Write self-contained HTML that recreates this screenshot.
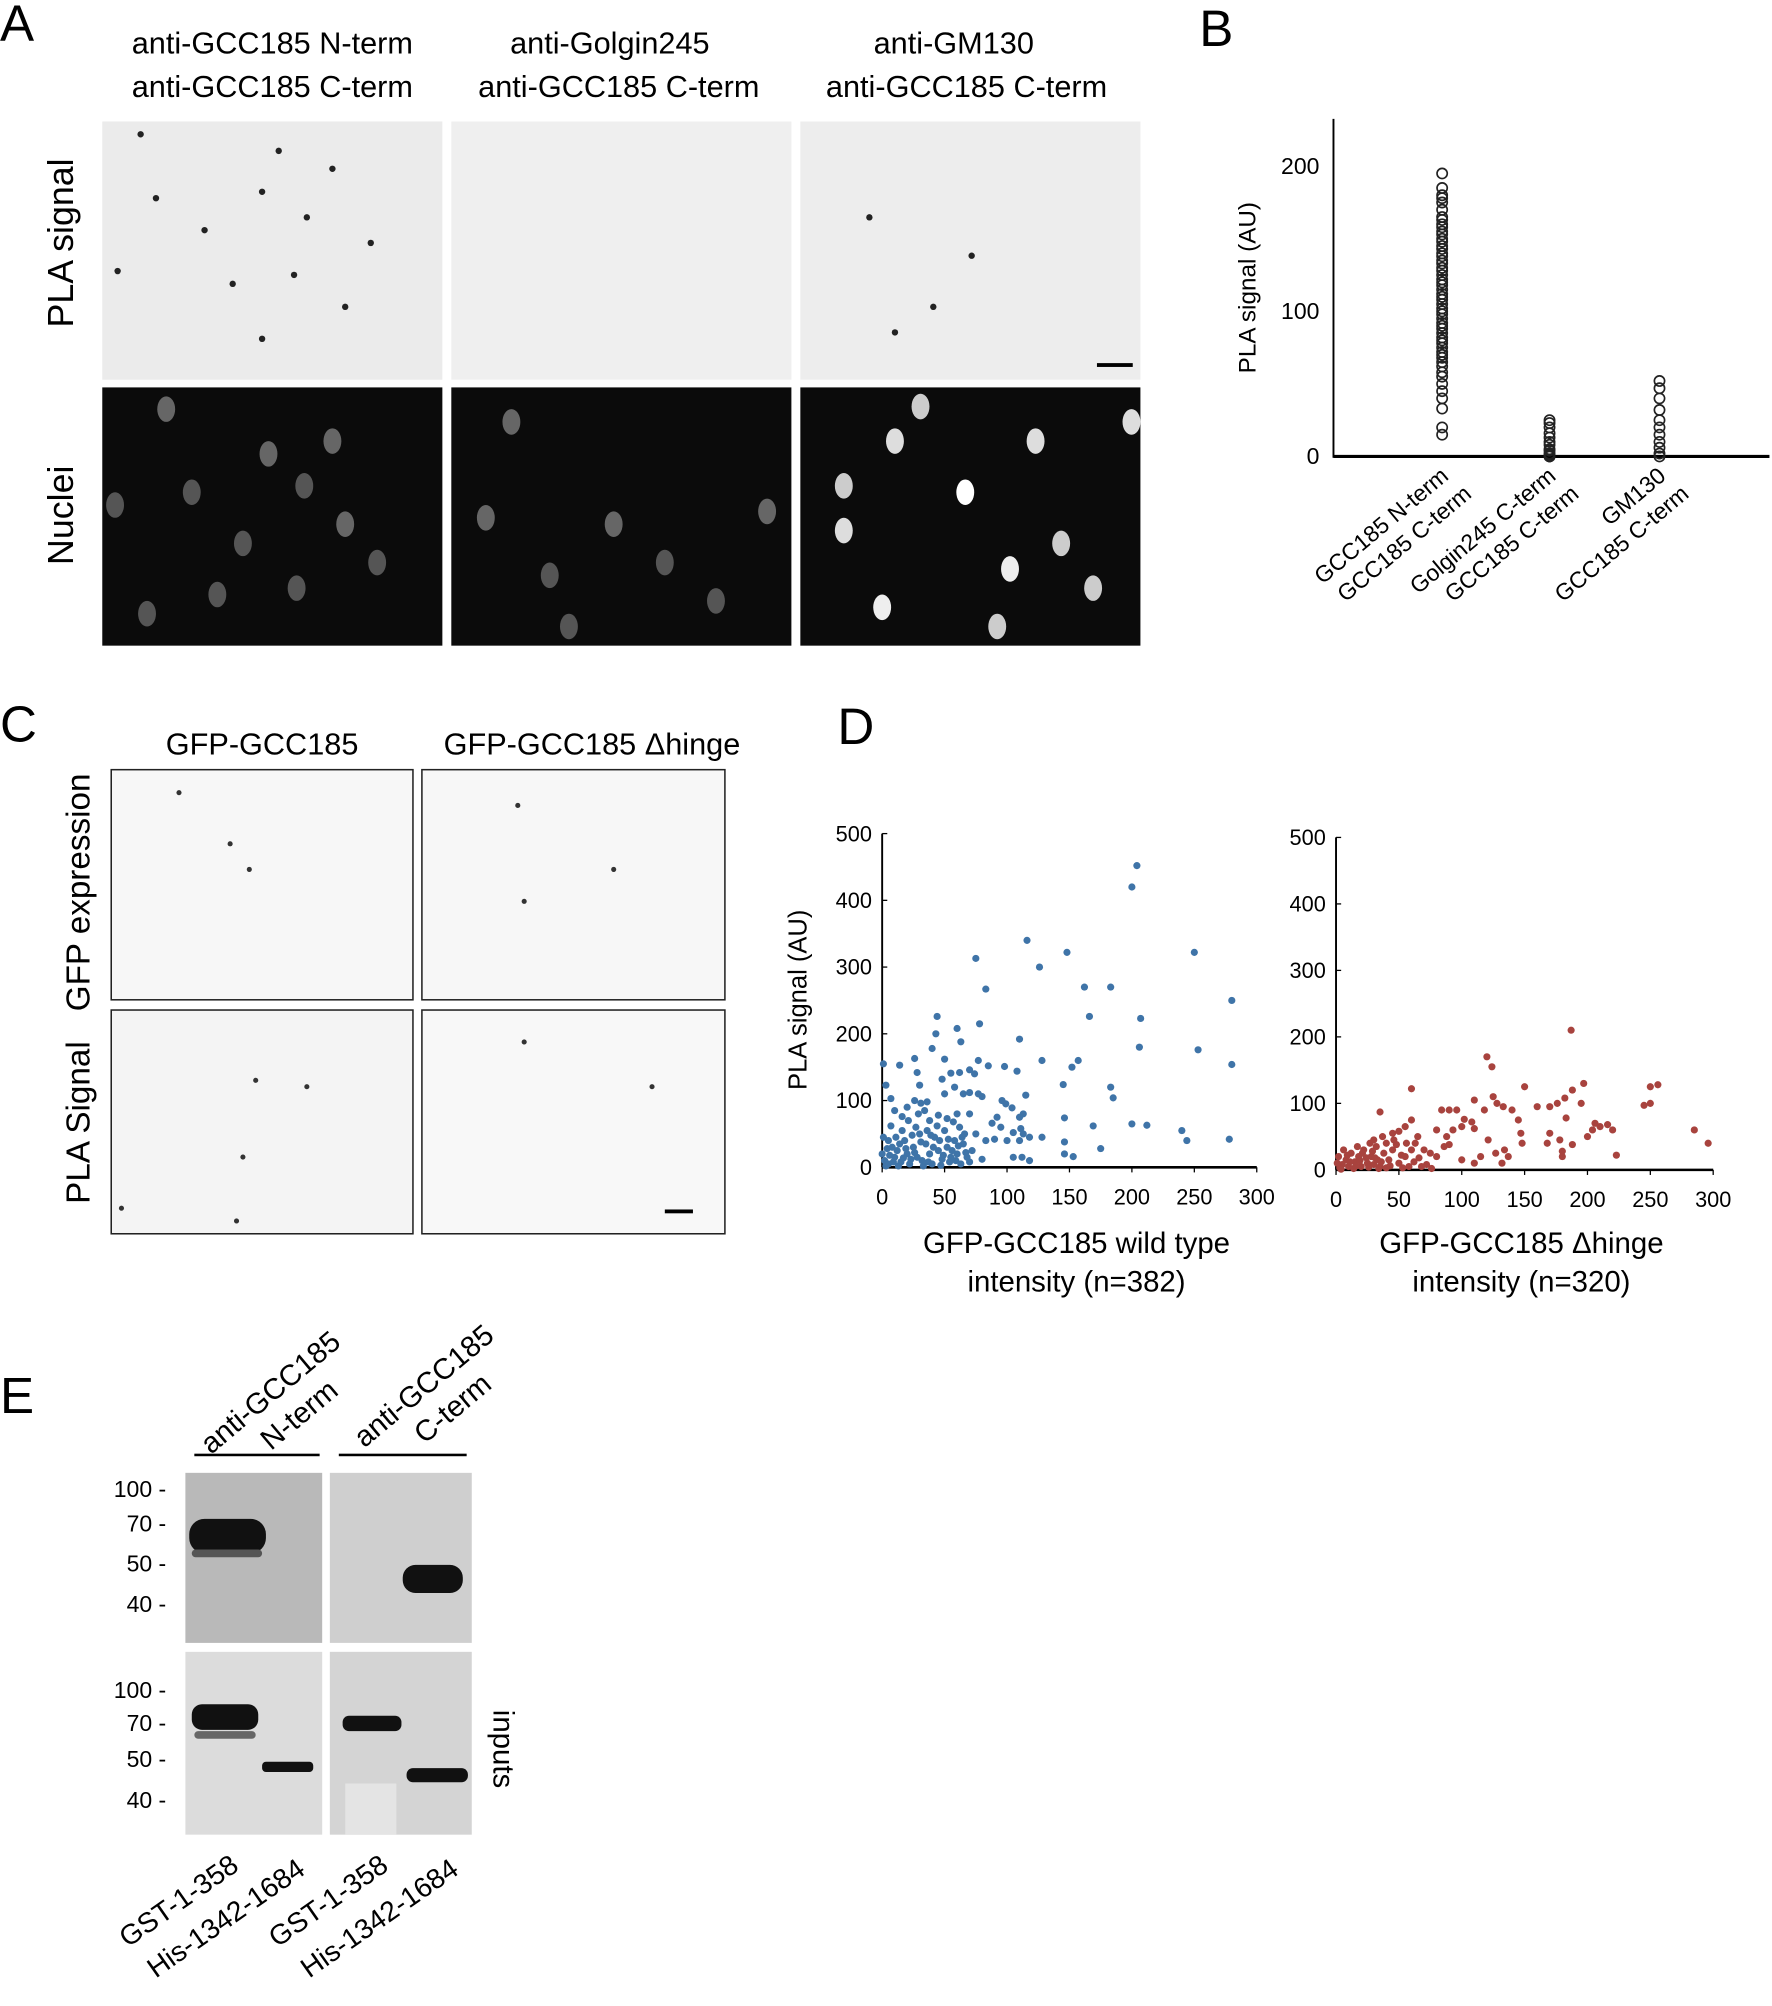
<!DOCTYPE html>
<html><head><meta charset="utf-8"><style>
html,body{margin:0;padding:0;background:#fff;}
svg{display:block;font-family:"Liberation Sans",Arial,sans-serif;}
</style></head><body>
<svg width="1772" height="2006" viewBox="0 0 1386 1569" xmlns="http://www.w3.org/2000/svg">
<rect width="1386" height="1569" fill="#fff"/>
<!-- Panel A -->
<g>
<text x="0" y="32" font-size="40">A</text>
<g font-size="24" text-anchor="middle">
<text x="213" y="42">anti-GCC185 N-term</text><text x="213" y="76">anti-GCC185 C-term</text>
<text x="477" y="42">anti-Golgin245</text><text x="484" y="76">anti-GCC185 C-term</text>
<text x="746" y="42">anti-GM130</text><text x="756" y="76">anti-GCC185 C-term</text>
</g>
<text font-size="28" text-anchor="middle" transform="translate(57,190) rotate(-90)">PLA signal</text>
<text font-size="28" text-anchor="middle" transform="translate(57,403) rotate(-90)">Nuclei</text>
<rect x="80" y="95" width="266" height="202" fill="#ebebeb"/>
<rect x="353" y="95" width="266" height="202" fill="#efefef"/>
<rect x="626" y="95" width="266" height="202" fill="#ededed"/>
<g fill="#333" id="plaDots"></g>
<rect x="858" y="284" width="28" height="3" fill="#000"/>
<rect x="80" y="303" width="266" height="202" fill="#0b0b0b"/>
<rect x="353" y="303" width="266" height="202" fill="#0b0b0b"/>
<rect x="626" y="303" width="266" height="202" fill="#0b0b0b"/>
<g id="nuclei"></g>
</g>
<!-- Panel B -->
<g>
<text x="938" y="36" font-size="40">B</text>
<text font-size="19" text-anchor="middle" transform="translate(982,225) rotate(-90)">PLA signal (AU)</text>
<g id="chartB"></g>
</g>
<!-- Panel C -->
<g>
<text x="0" y="580" font-size="40">C</text>
<text x="205" y="590" font-size="24" text-anchor="middle">GFP-GCC185</text>
<text x="463" y="590" font-size="24" text-anchor="middle">GFP-GCC185 Δhinge</text>
<text font-size="26" text-anchor="middle" transform="translate(70,698) rotate(-90)">GFP expression</text>
<text font-size="26" text-anchor="middle" transform="translate(70,878) rotate(-90)">PLA Signal</text>
<rect x="87" y="602" width="236" height="180" fill="#f7f7f7" stroke="#222" stroke-width="1.2"/>
<rect x="330" y="602" width="237" height="180" fill="#f7f7f7" stroke="#222" stroke-width="1.2"/>
<rect x="87" y="790" width="236" height="175" fill="#f4f4f4" stroke="#222" stroke-width="1.2"/>
<rect x="330" y="790" width="237" height="175" fill="#f8f8f8" stroke="#222" stroke-width="1.2"/>
<g fill="#333" id="cDots"></g>
<rect x="520" y="946" width="22" height="3" fill="#000"/>
</g>
<!-- Panel D -->
<g>
<text x="655" y="582" font-size="40">D</text>
<text font-size="20" text-anchor="middle" transform="translate(631,782) rotate(-90)">PLA signal (AU)</text>
<g font-size="23" text-anchor="middle">
<text x="842" y="980">GFP-GCC185 wild type</text>
<text x="842" y="1010">intensity (n=382)</text>
<text x="1190" y="980">GFP-GCC185 Δhinge</text>
<text x="1190" y="1010">intensity (n=320)</text>
</g>
<g id="chartD1"></g><g id="chartD2"></g>
</g>
<!-- Panel E -->
<g>
<text x="0" y="1105" font-size="40">E</text>
<g font-size="23">
<text transform="translate(165,1138) rotate(-40)">anti-GCC185</text>
<text transform="translate(212,1135) rotate(-40)">N-term</text>
<text transform="translate(285,1133) rotate(-40)">anti-GCC185</text>
<text transform="translate(332,1130) rotate(-40)">C-term</text>
</g>
<rect x="152" y="1137" width="98" height="2" fill="#000"/>
<rect x="265" y="1137" width="100" height="2" fill="#000"/>
<rect x="145" y="1152" width="107" height="133" fill="#b9b9b9"/>
<rect x="258" y="1152" width="111" height="133" fill="#cfcfcf"/>
<rect x="145" y="1292" width="107" height="143" fill="#dcdcdc"/>
<rect x="258" y="1292" width="111" height="143" fill="#d4d4d4"/>
<rect x="148" y="1188" width="60" height="27" rx="12" fill="#111"/>
<rect x="150" y="1212" width="55" height="6" rx="3" fill="#555"/>
<rect x="315" y="1224" width="47" height="22" rx="10" fill="#111"/>
<rect x="150" y="1333" width="52" height="20" rx="8" fill="#111"/>
<rect x="152" y="1354" width="48" height="6" rx="3" fill="#666"/>
<rect x="205" y="1378" width="40" height="8" rx="3" fill="#111"/>
<rect x="268" y="1342" width="46" height="12" rx="5" fill="#111"/>
<rect x="270" y="1395" width="40" height="40" fill="#e4e4e4"/>
<rect x="318" y="1383" width="48" height="11" rx="5" fill="#111"/>
<g font-size="18" text-anchor="end">
<text x="130" y="1171">100 -</text><text x="130" y="1198">70 -</text><text x="130" y="1229">50 -</text><text x="130" y="1261">40 -</text>
<text x="130" y="1328">100 -</text><text x="130" y="1354">70 -</text><text x="130" y="1382">50 -</text><text x="130" y="1414">40 -</text>
</g>
<text font-size="23" text-anchor="middle" transform="translate(386,1368) rotate(90)">inputs</text>
<g font-size="22" text-anchor="end">
<text transform="translate(188,1462) rotate(-35)">GST-1-358</text>
<text transform="translate(240,1465) rotate(-35)">His-1342-1684</text>
<text transform="translate(305,1462) rotate(-35)">GST-1-358</text>
<text transform="translate(360,1465) rotate(-35)">His-1342-1684</text>
</g>
</g>
</svg>
<script>
// Panel B data
const bCategories=[["GCC185 N-term","GCC185 C-term"],["Golgin245 C-term","GCC185 C-term"],["GM130","GCC185 C-term"]];
const bTicks=[0,100,200];
const bCat1=[15,20,33,40,45,50,55,58,62,65,68,70,72,75,78,80,82,85,88,90,92,95,98,100,102,105,108,110,112,115,118,120,122,125,128,130,133,135,138,140,143,145,148,150,153,155,158,160,163,165,170,175,178,180,185,195];
const bCat2=[0,0,1,2,4,5,8,10,13,16,20,23,25];
const bCat3=[0,2,6,10,15,20,25,32,40,47,52];
// Panel D data
const dXTicks=[0,50,100,150,200,250,300];
const dYTicks=[0,100,200,300,400,500];
const wtX=[200,204,116,148,250,75,126,83,162,183,280,44,166,207,43,60,78,63,110,206,253,40,26,1,14,50,85,98,77,128,157,152,280,108,62,55,70,74,28,3,48,145,183,185,7,30,58,50,65,70,77,80,96,99,104,115,113,110,111,146,26,31,36,20,10,16,38,45,52,60,70,88,92,95,83,90,100,105,110,113,118,128,146,146,153,169,175,200,212,240,244,278,105,112,118,80,5,0,2,5,8,10,12,15,18,20,22,25,28,30,32,35,38,40,42,45,48,50,52,55,58,60,62,65,68,72,75,3,6,9,14,17,24,27,33,36,44,47,54,57,63,66,16,11,7,21,29,34,1,4,13,19,23,26,31,37,41,46,49,53,56,59,61,67,70,64,39];
const wtY=[420,452,340,322,322,313,300,267,270,270,250,226,226,223,200,208,215,188,192,180,176,178,163,155,153,162,152,151,160,160,160,150,154,144,142,141,146,140,142,123,132,124,120,104,103,123,120,110,110,112,110,106,100,95,89,108,80,75,58,74,100,96,98,90,85,76,70,78,73,80,80,66,75,60,40,42,40,52,40,50,45,45,38,20,16,62,28,65,63,55,40,42,15,15,10,12,40,20,10,5,30,15,25,8,40,20,5,30,15,50,10,35,20,5,45,25,12,55,30,15,40,20,60,35,15,25,50,2,18,8,35,14,48,60,2,55,62,3,8,68,5,50,55,45,62,70,80,85,45,28,2,28,12,22,38,8,30,40,18,42,25,10,32,22,8,45,48];
const dhX=[187,120,124,60,150,256,250,197,188,182,195,176,160,250,245,110,125,128,133,118,140,145,170,35,90,96,84,102,108,100,110,93,206,210,204,216,220,183,285,296,200,188,178,170,168,147,148,134,127,121,137,132,115,110,100,90,88,80,75,80,86,60,55,50,45,40,30,65,70,60,180,223,180,55,50,45,42,38,35,32,28,25,22,20,18,15,12,10,8,5,3,2,6,14,17,24,27,30,33,37,40,48,52,58,62,66,72,76,1,4,9,11,16,19,21,26,29,31,34,36,43,46,53,56,63,68];
const dhY=[210,170,155,122,125,128,125,130,120,108,100,100,95,100,97,105,110,100,95,90,90,75,95,87,90,90,90,76,72,65,62,60,70,65,60,68,60,78,60,40,50,38,45,55,40,55,40,30,25,45,20,10,20,10,15,38,50,20,25,60,35,75,65,58,55,40,45,50,30,30,20,22,28,20,10,30,15,25,5,35,20,10,30,5,20,12,25,5,15,8,3,20,30,2,35,18,40,8,15,50,3,38,22,5,12,18,8,2,10,1,22,12,6,14,25,4,28,18,2,12,6,45,3,40,40,5];

const NS='http://www.w3.org/2000/svg';
function mk(tag,attrs,parent){const e=document.createElementNS(NS,tag);for(const k in attrs)e.setAttribute(k,attrs[k]);parent.appendChild(e);return e;}

const plaSpots=[[110,105],[160,180],[205,150],[218,118],[260,132],[230,215],[182,222],[92,212],[205,265],[290,190],[270,240],[122,155],[240,170],[680,170],[730,240],[760,200],[700,260]];
const pd=document.getElementById('plaDots');
plaSpots.forEach(p=>{const c=mk('circle',{cx:p[0],cy:p[1],r:2.5,fill:'#222'},pd);});
const nucl=[[90,395,'#555'],[130,320,'#666'],[150,385,'#555'],[210,355,'#666'],[238,380,'#555'],[260,345,'#666'],[190,425,'#555'],[232,460,'#555'],[270,410,'#666'],[295,440,'#555'],[115,480,'#555'],[170,465,'#555'],[380,405,'#666'],[400,330,'#666'],[430,450,'#555'],[480,410,'#666'],[520,440,'#555'],[560,470,'#555'],[600,400,'#666'],[445,490,'#555'],[660,380,'#ccc'],[700,345,'#ddd'],[755,385,'#fff'],[790,445,'#eee'],[810,345,'#ddd'],[830,425,'#ccc'],[660,415,'#ddd'],[690,475,'#eee'],[780,490,'#ccc'],[855,460,'#ccc'],[720,318,'#ccc'],[885,330,'#ddd']];
const ng=document.getElementById('nuclei');
nucl.forEach(n=>{const e=mk('ellipse',{cx:n[0],cy:n[1],rx:7,ry:10,fill:n[2]},ng);});
const cSp=[[180,660],[195,680],[140,620],[410,705],[405,630],[480,680],[200,845],[240,850],[190,905],[185,955],[95,945],[410,815],[510,850]];
const cg=document.getElementById('cDots');
cSp.forEach(p=>{const c=mk('circle',{cx:p[0],cy:p[1],r:2,fill:'#333'},cg);});

// Chart B
(function(){
const g=document.getElementById('chartB');
const y0=357,y200=130; const yS=v=>y0-(y0-y200)*v/200;
const catX=[1128,1212,1298];
let l=mk('line',{x1:1043,y1:93,x2:1043,y2:358,stroke:'#000','stroke-width':1.5},g);

l=mk('line',{x1:1043,y1:357,x2:1384,y2:357,stroke:'#000','stroke-width':2.5},g);

bTicks.forEach(t=>{const tx=mk('text',{x:1032,y:yS(t)+6,'font-size':18,'text-anchor':'end'},g);tx.textContent=t;
});
[bCat1,bCat2,bCat3].forEach((arr,i)=>{arr.forEach(v=>{const c=mk('circle',{cx:catX[i],cy:yS(v),r:4,fill:'none',stroke:'#222','stroke-width':1.3},g);
});});
bCategories.forEach((c,i)=>{c.forEach((s,j)=>{const t=mk('text',{'font-size':18,'text-anchor':'end',transform:`translate(${catX[i]+6+j*18},${374+j*14}) rotate(-40)`},g);t.textContent=s;
});});
})();

// Chart D
function scatter(id,ox,oy,top,xr,xs,ys,col,name){
const g=document.getElementById(id);
const X=v=>ox+(xr-ox)*v/300, Y=v=>oy-(oy-top)*v/500;
let l=mk('line',{x1:ox,y1:top,x2:ox,y2:oy,stroke:'#000','stroke-width':1.5},g);

l=mk('line',{x1:ox,y1:oy,x2:xr,y2:oy,stroke:'#000','stroke-width':2},g);

dYTicks.forEach(t=>{mk('line',{x1:ox,y1:Y(t),x2:ox+4,y2:Y(t),stroke:'#000'},g);
const tx=mk('text',{x:ox-8,y:Y(t)+6,'font-size':17,'text-anchor':'end'},g);tx.textContent=t;
});
dXTicks.forEach(t=>{mk('line',{x1:X(t),y1:oy,x2:X(t),y2:oy+4,stroke:'#000'},g);
const tx=mk('text',{x:X(t),y:oy+29,'font-size':17,'text-anchor':'middle'},g);tx.textContent=t;
});
xs.forEach((v,i)=>{const c=mk('circle',{cx:X(v),cy:Y(ys[i]),r:2.8,fill:col},g);
});
}
scatter('chartD1',690,913,652,983,wtX,wtY,'#3f74a8','d-wt');
scatter('chartD2',1045,915,655,1340,dhX,dhY,'#a8433e','d-dhinge');
</script>
</body></html>
